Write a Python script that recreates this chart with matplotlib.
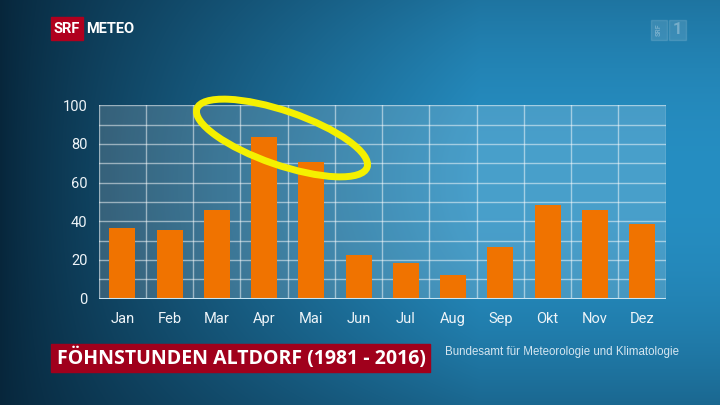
import numpy as np
import matplotlib
matplotlib.use("Agg")
from matplotlib import pyplot as plt
from matplotlib.patches import Ellipse, Rectangle

# data
months = ["Jan", "Feb", "Mar", "Apr", "Mai", "Jun",
          "Jul", "Aug", "Sep", "Okt", "Nov", "Dez"]
hours = [36.6, 35.4, 45.6, 83.6, 70.6, 22.4, 18.5, 12.4, 26.6, 48.3, 45.6, 38.5]
y_ticks = [0, 20, 40, 60, 80, 100]

title = "FÖHNSTUNDEN ALTDORF (1981 - 2016)"
source = "Bundesamt für Meteorologie und Klimatologie"

W, H = 720, 405
fig = plt.figure(figsize=(W / 100, H / 100), dpi=100)

# background gradient (dark navy on the left, lighter blue to the right)
bg_ax = fig.add_axes([0, 0, 1, 1], zorder=0)
xx, yy = np.meshgrid(np.linspace(0, 1, W), np.linspace(0, 1, H))
dark = np.array([0x07, 0x26, 0x3b]) / 255
light = np.array([0x26, 0x8e, 0xc2]) / 255
w = np.clip(xx * 1.5, 0, 1) ** 0.8
w = w * (1 - 0.55 * (yy - 0.45) ** 2 * 2.2)
w = np.clip(w, 0, 1)
img = dark + (light - dark) * w[..., None]
bg_ax.imshow(img, extent=[0, W, H, 0], aspect="auto")
bg_ax.set_xlim(0, W)
bg_ax.set_ylim(H, 0)
bg_ax.axis("off")

# the bar chart
ax = fig.add_axes([98.7 / W, (H - 298.5) / H, 567 / W, 193.2 / H], zorder=1)
ax.set_facecolor((1, 1, 1, 0.16))
x = np.arange(len(months))
ax.bar(x, hours, width=0.55, color="#f07300", zorder=3)
ax.set_xlim(-0.5, len(months) - 0.5)
ax.set_ylim(0, 100)

grid_kw = dict(color="white", alpha=0.5, lw=1, zorder=2)
for v in range(10, 101, 10):
    ax.axhline(v, **grid_kw)
for b in np.arange(-0.5, len(months), 1.0):
    ax.axvline(b, **grid_kw)
ax.axhline(0, color="#c8e4f2", lw=2.2, zorder=4)

for s in ax.spines.values():
    s.set_visible(False)
ax.set_xticks(x)
ax.set_xticklabels(months)
ax.set_yticks(y_ticks)
ax.tick_params(length=0, colors="#eef4f8", labelsize=10.5)
ax.tick_params(axis="x", pad=10)
ax.tick_params(axis="y", pad=8)
for lbl in ax.get_xticklabels() + ax.get_yticklabels():
    lbl.set_fontfamily("Roboto")

# overlay for logos, title and the highlight ellipse
top = fig.add_axes([0, 0, 1, 1], zorder=5)
top.set_xlim(0, W)
top.set_ylim(H, 0)
top.axis("off")
top.patch.set_alpha(0)

# SRF METEO logo
top.add_patch(Rectangle((51, 17), 32, 23, color="#b0001e"))
top.text(67, 29, "SRF", color="white", fontsize=10.5, fontweight="bold",
         family="Roboto", ha="center", va="center")
top.text(86, 29, "METEO", color="white", fontsize=10.5, fontweight="bold",
         family="Roboto", ha="left", va="center")

# faint SRF 1 logo top right
top.add_patch(Rectangle((651, 20), 16, 20, color="white", alpha=0.12))
top.add_patch(Rectangle((669, 20), 17, 20, color="white", alpha=0.12))
top.text(659, 30, "SRF", color="white", alpha=0.3, fontsize=5, rotation=90,
         family="Roboto", fontweight="bold", ha="center", va="center")
top.text(677.5, 30, "1", color="white", alpha=0.3, fontsize=12,
         family="Roboto", fontweight="bold", ha="center", va="center")

# title box
top.add_patch(Rectangle((51, 344), 379, 28, color="#a0001c"))
top.text(57, 358, title, color="white", fontsize=14, fontweight="bold",
         family="Open Sans", ha="left", va="center")
top.text(445, 352, source, color="#d5e6f0", fontsize=8.3,
         family="Liberation Sans", ha="left", va="center")

# yellow highlight around Apr / Mai
top.add_patch(Ellipse((282, 138), 180, 54, angle=19, fill=False,
                      edgecolor="#f5f000", lw=5))

fig.savefig("out.png", dpi=100)
